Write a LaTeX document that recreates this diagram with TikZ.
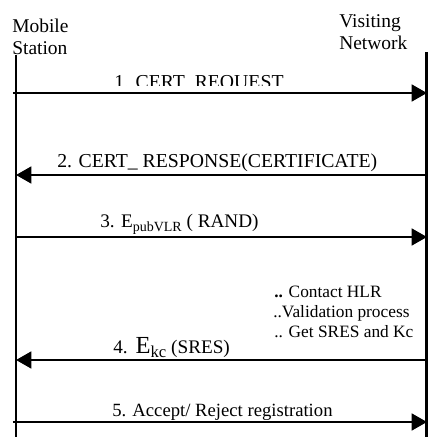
\documentclass[tikz,border=0pt]{standalone}
\usepackage{fontspec}
\setmainfont{Liberation Serif}
\usetikzlibrary{arrows.meta}

\tikzset{
  lifeline/.style={line width=1.6pt},
  msg/.style={line width=2pt, -{Triangle[length=11.5pt,width=12.5pt]}},
  head/.style={anchor=north west, inner sep=0pt, align=left,
    font=\fontsize{14.6}{16.5}\selectfont},
  lbl/.style={anchor=base west, inner sep=0pt, font=\fontsize{14.8}{17}\selectfont},
  note/.style={anchor=base west, inner sep=0pt, font=\fontsize{13}{15}\selectfont},
}

\begin{document}
\begin{tikzpicture}[x=0.75pt, y=-0.75pt]
  \useasboundingbox (0,0) rectangle (428,437);

  % the two parties
  \node[head] (ms) at (12,19) {Mobile\\Station};
  \node[head] (vn) at (339,14) {Visiting\\Network};

  \coordinate (ms top) at (16,55);
  \coordinate (ms bot) at (16,437);
  \coordinate (vn top) at (426.5,52);
  \coordinate (vn bot) at (426.5,437);
  \draw[lifeline] (ms top) -- (ms bot);
  \draw[lifeline] (vn top) -- (vn bot);

  % ends of the messages
  \coordinate (ms1) at (13,93);   \coordinate (vn1) at (427,93);
  \coordinate (ms2) at (16,175);  \coordinate (vn2) at (427,175);
  \coordinate (ms3) at (16,237);  \coordinate (vn3) at (427,237);
  \coordinate (ms4) at (16,360);  \coordinate (vn4) at (427,360);
  \coordinate (ms5) at (13,422);  \coordinate (vn5) at (427,422);

  \draw[msg] (ms1) -- (vn1);
  \draw[msg] (vn2) -- (ms2);
  \draw[msg] (ms3) -- (vn3);
  \draw[msg] (vn4) -- (ms4);
  \draw[msg] (ms5) -- (vn5);

  % labels
  \begin{scope}
    \clip (0,0) rectangle (428,85);
    \node[lbl] (req) at (114,88) {1. CERT\_REQUEST};
  \end{scope}
  \node[lbl] (resp) at (57,167) {2. CERT\_ RESPONSE(CERTIFICATE)};
  \node[lbl, font=\fontsize{14.4}{17}\selectfont] (rand) at (100,227)
    {3. E\raisebox{-0.25em}{\fontsize{10.5}{10}\selectfont pubVLR} ( RAND)};
  \node[lbl, font=\fontsize{14.4}{17}\selectfont] (sres) at (113,353)
    {4.\ \,{\fontsize{18.4}{20}\selectfont E}\raisebox{-0.25em}{\fontsize{12.5}{12}\selectfont kc} (SRES)};
  \node[lbl, font=\fontsize{14}{17}\selectfont] (reg) at (112,416)
    {5. Accept/ Reject registration};

  \node[note] (hlr) at (274,297) {{\bfseries ..} Contact HLR};
  \node[note] (valid) at (273,317) {..Validation process};
  \node[note] (kc) at (274,337) {.. Get SRES and Kc};

\end{tikzpicture}
\end{document}
